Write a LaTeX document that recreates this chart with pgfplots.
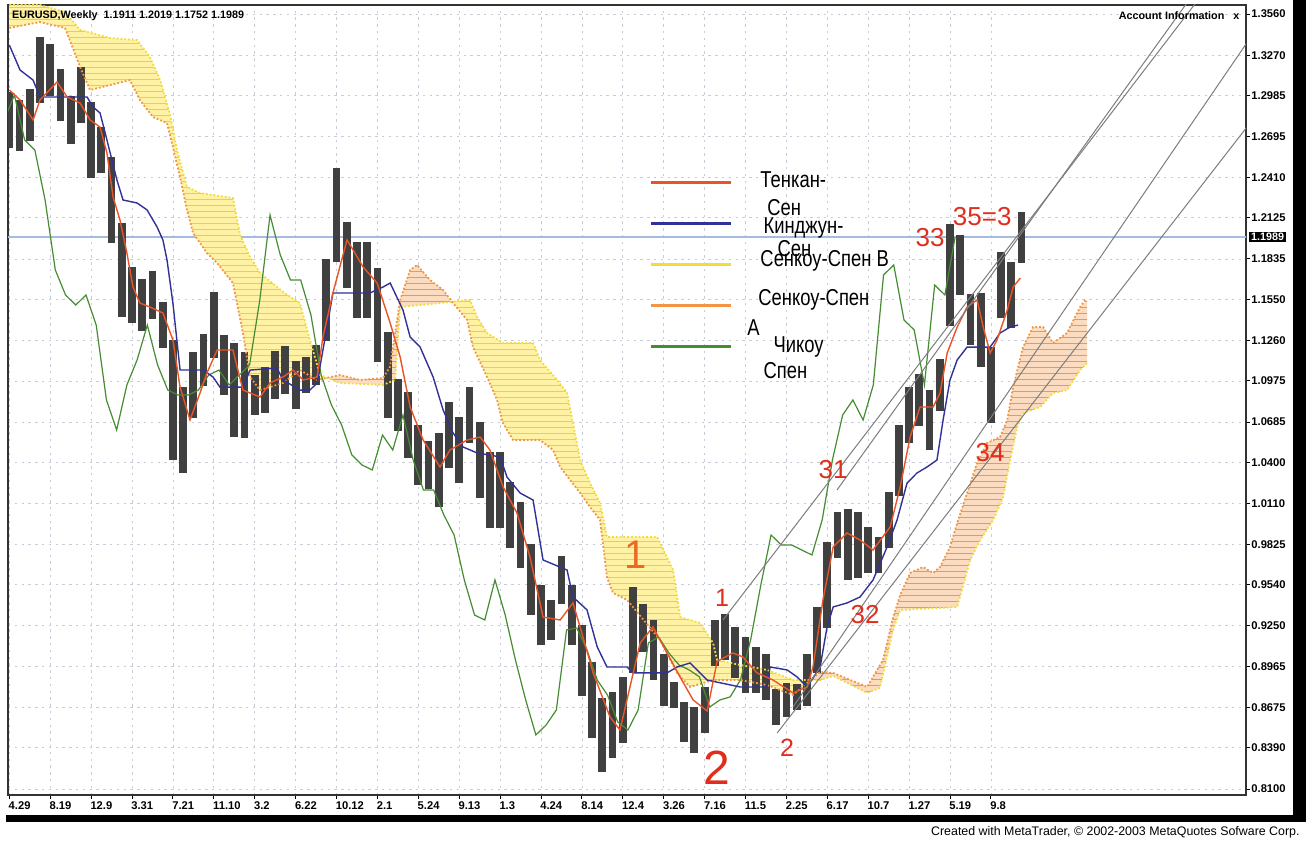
\documentclass[border=0pt]{standalone}
\usepackage{fontspec}
\setmainfont{Liberation Sans}
\usepackage{graphicx}
\usepackage{pgfplots}
\pgfplotsset{compat=1.18}
\usepackage{pgfplotstable}
\usetikzlibrary{patterns}

\definecolor{tenkan}{RGB}{232,84,40}
\definecolor{kijun}{RGB}{50,50,150}
\definecolor{chikou}{RGB}{70,140,50}
\definecolor{spanA}{RGB}{240,150,70}
\definecolor{spanB}{RGB}{240,220,60}
\definecolor{cloudYf}{RGB}{255,242,165}
\definecolor{cloudYl}{RGB}{245,208,45}
\definecolor{cloudOf}{RGB}{252,220,192}
\definecolor{cloudOl}{RGB}{240,150,80}
\definecolor{gridc}{RGB}{198,204,216}
\definecolor{pline}{RGB}{165,188,225}
\definecolor{trend}{RGB}{125,125,125}
\definecolor{lab}{RGB}{225,45,30}
\definecolor{labO}{RGB}{235,105,35}

\pgfplotstableread{
w c e
0 1.2814 0.020
4 1.2778 0.018
8 1.2849 0.018
12 1.3166 0.023
16 1.3166 0.018
20 1.2990 0.018
24 1.2814 0.017
28 1.2990 0.020
32 1.2673 0.027
36 1.2602 0.016
40 1.2250 0.030
44 1.1757 0.033
48 1.1581 0.020
52 1.1510 0.018
56 1.1581 0.017
60 1.1369 0.016
64 1.0841 0.042
68 1.0630 0.030
72 1.0947 0.023
76 1.1123 0.018
80 1.1369 0.023
84 1.1088 0.021
88 1.0911 0.033
92 1.0876 0.030
96 1.0876 0.014
100 1.0911 0.016
104 1.1017 0.017
108 1.1052 0.017
112 1.0947 0.017
116 1.1017 0.013
120 1.1088 0.014
124 1.1546 0.029
128 1.2144 0.033
132 1.1863 0.023
136 1.1686 0.027
140 1.1686 0.027
144 1.1440 0.033
148 1.1017 0.030
152 1.0806 0.018
156 1.0665 0.023
160 1.0454 0.021
164 1.0383 0.017
168 1.0348 0.026
172 1.0594 0.023
176 1.0489 0.023
180 1.0735 0.020
184 1.0418 0.027
188 1.0207 0.027
192 1.0207 0.027
196 1.0031 0.023
200 0.9890 0.023
204 0.9573 0.025
208 0.9326 0.021
212 0.9291 0.014
216 0.9573 0.017
220 0.9326 0.021
224 0.9009 0.025
228 0.8728 0.027
232 0.8481 0.026
236 0.8551 0.023
240 0.8657 0.023
244 0.9221 0.030
248 0.9235 0.017
252 0.9080 0.021
256 0.8868 0.018
260 0.8763 0.009
264 0.8573 0.014
268 0.8516 0.016
272 0.8657 0.016
276 0.9129 0.016
280 0.9171 0.016
284 0.9059 0.018
288 0.8974 0.020
292 0.8939 0.016
296 0.8890 0.016
300 0.8678 0.013
304 0.8728 0.012
308 0.8749 0.009
312 0.8868 0.018
316 0.9150 0.023
320 0.9538 0.030
324 0.9890 0.016
328 0.9820 0.025
332 0.9820 0.023
336 0.9784 0.016
340 0.9749 0.013
344 0.9996 0.020
348 1.0418 0.025
352 1.0735 0.020
356 1.0841 0.018
360 1.0700 0.021
364 1.0947 0.018
368 1.1722 0.036
372 1.1792 0.021
376 1.1405 0.018
380 1.1334 0.026
384 1.0947 0.027
388 1.1651 0.023
392 1.1581 0.023
396 1.1989 0.018
}\price

\pgfplotstableread{
w c
-26 1.2814
-22 1.2778
-18 1.2849
-14 1.3166
-10 1.3166
-6 1.2990
-2 1.2814
2 1.2990
6 1.2673
10 1.2602
14 1.2250
18 1.1757
22 1.1581
26 1.1510
30 1.1581
34 1.1369
38 1.0841
42 1.0630
46 1.0947
50 1.1123
54 1.1369
58 1.1088
62 1.0911
66 1.0876
70 1.0876
74 1.0911
78 1.1017
82 1.1052
86 1.0947
90 1.1017
94 1.1088
98 1.1546
102 1.2144
106 1.1863
110 1.1686
114 1.1686
118 1.1440
122 1.1017
126 1.0806
130 1.0665
134 1.0454
138 1.0383
142 1.0348
146 1.0594
150 1.0489
154 1.0735
158 1.0418
162 1.0207
166 1.0207
170 1.0031
174 0.9890
178 0.9573
182 0.9326
186 0.9291
190 0.9573
194 0.9326
198 0.9009
202 0.8728
206 0.8481
210 0.8551
214 0.8657
218 0.9221
222 0.9235
226 0.9080
230 0.8868
234 0.8763
238 0.8573
242 0.8516
246 0.8657
250 0.9129
254 0.9171
258 0.9059
262 0.8974
266 0.8939
270 0.8890
274 0.8678
278 0.8728
282 0.8749
286 0.8868
290 0.9150
294 0.9538
298 0.9890
302 0.9820
306 0.9820
310 0.9784
314 0.9749
318 0.9996
322 1.0418
326 1.0735
330 1.0841
334 1.0700
338 1.0947
342 1.1722
346 1.1792
350 1.1405
354 1.1334
358 1.0947
362 1.1651
366 1.1581
370 1.1989
}\chikoutab

\pgfplotstableread{
w p
0 1.3025
4.2 1.2955
9.3 1.2814
12 1.2955
18.7 1.3081
22.6 1.2976
27.7 1.2933
31.6 1.2814
35.5 1.2764
38.2 1.2581
40.6 1.2271
43.3 1.2109
46 1.1877
48.4 1.1637
51.1 1.1524
55 1.1496
60.1 1.1454
64 1.1264
66.8 1.0932
70.7 1.0700
74.6 1.0890
77.3 1.1031
81.3 1.1193
87.5 1.1193
91.4 1.0911
98.1 1.0862
102 1.0961
107.1 1.1003
111 1.1052
114.9 1.0982
120.4 1.1003
122.7 1.1285
126.6 1.1595
132.1 1.1968
134.5 1.1898
138.4 1.1778
143.9 1.1665
149 1.1383
152.9 1.1144
156.8 1.0792
161.9 1.0559
168.5 1.0369
172.4 1.0489
179.1 1.0559
184.2 1.0580
188 1.0489
193.2 1.0228
198.6 1.0045
203.7 0.9735
208.8 0.9312
215.5 0.9291
220.5 0.9411
223.3 0.9242
228.4 0.8918
235 0.8608
238.9 0.8516
242.8 0.8819
246.8 0.9129
251.8 0.9242
257.3 0.9059
262.4 0.8890
267.5 0.8728
273 0.8650
276.9 0.9000
283.1 0.9059
287 0.9030
292.5 0.8918
298.8 0.8868
306.6 0.8777
312.1 0.8819
314.4 0.8960
318.3 0.9432
322.3 0.9806
327.7 0.9904
332.8 0.9855
337.9 0.9784
344.6 0.9947
348.5 1.0228
352.4 1.0580
356.3 1.0792
361.4 1.0792
364.1 1.0890
366.9 1.1172
370.8 1.1355
374.7 1.1496
378.6 1.1546
381 1.1355
383.7 1.1172
386.4 1.1264
390.4 1.1475
392.7 1.1637
395.5 1.1700
}\tenkantab

\pgfplotstableread{
w p
0 1.3342
4.2 1.3166
9.3 1.3095
12 1.2976
30.4 1.2976
32.8 1.2905
35.5 1.2863
38.2 1.2673
42.1 1.2391
44.5 1.2250
50 1.2229
53.9 1.2180
57.8 1.2060
60.1 1.1968
61.7 1.1827
64 1.1524
66.8 1.1052
75.8 1.1052
79.7 1.1003
82.4 1.0932
91.4 1.0932
94.2 1.1052
104.7 1.1066
107.1 1.0982
113.7 1.0911
117.6 1.0911
120.4 1.0961
124.3 1.1355
126.6 1.1595
141.1 1.1595
146.2 1.1637
149 1.1665
154 1.1475
156.8 1.1285
160.7 1.1214
165.8 1.1003
169.7 1.0771
173.6 1.0609
177.5 1.0510
183 1.0468
192 1.0440
194.7 1.0298
199.8 1.0186
204.9 1.0136
208.8 0.9714
218.2 0.9643
220.5 0.9453
226 0.9362
230 0.9101
233.8 0.8960
241.7 0.8960
244 0.8918
257.3 0.8918
261.2 0.8960
266.3 0.8988
273 0.8868
285.9 0.8819
296.4 0.8819
297.6 0.8960
304.3 0.8939
308.2 0.8890
312.1 0.8819
317.2 0.8960
319.9 0.9242
322.3 0.9383
327.7 0.9411
332.8 0.9453
337.9 0.9573
343.4 0.9806
347.3 0.9996
351.2 1.0256
355.1 1.0327
359 1.0369
362.9 1.0418
365.3 1.0700
368 1.0982
370.8 1.1123
374.7 1.1214
383.7 1.1214
387.6 1.1313
391.5 1.1355
394.6 1.1369
}\kijuntab

\pgfplotstableread{
w p
0 1.3624
12 1.3624
21.8 1.3574
27.7 1.3448
39.4 1.3391
50 1.3377
55 1.3257
59 1.3095
62.9 1.2849
65.6 1.2602
69.5 1.2342
74.6 1.2299
87.5 1.2264
90.3 1.2003
94.2 1.1848
98.1 1.1736
107.1 1.1602
113.7 1.1524
117.6 1.1264
121.6 1.1017
129.4 1.0961
146.2 1.0947
150.9 1.0982
152.9 1.1496
172.4 1.1531
180.2 1.1546
183 1.1426
186.9 1.1313
193.1 1.1243
204.9 1.1243
207.6 1.1123
214.3 1.0982
218.2 1.0890
220.5 1.0679
223.3 1.0418
227.2 1.0256
231.1 1.0115
233.8 0.9876
253.4 0.9876
259.7 0.9643
262.4 0.9312
270.2 0.9270
275.3 0.9129
276.9 0.9009
285.9 0.8974
296.4 0.8939
306.6 0.8868
317.2 0.8868
322.3 0.8897
335.6 0.8777
340.6 0.8812
345.7 0.9221
348.5 0.9362
370.8 0.9383
375.9 0.9714
379.8 0.9855
384.9 0.9996
388.8 1.0158
391.5 1.0418
394.3 1.0651
396.6 1.0749
403.3 1.0792
408.3 1.0890
413.8 1.0911
418.9 1.1052
421.6 1.1102
}\spanBtab

\pgfplotstableread{
w p
0 1.3462
12 1.3504
21.8 1.3462
27.7 1.3187
31.6 1.3025
39.4 1.3060
47.2 1.3095
51.1 1.2954
56.2 1.2835
61.7 1.2792
64 1.2623
66.8 1.2412
69.5 1.2180
71.9 1.2017
77.3 1.1877
81.3 1.1806
87.5 1.1665
91.4 1.1313
94.2 1.1003
98.1 1.0911
107.1 1.0961
113.7 1.1052
120.4 1.0982
129.4 1.1017
137.2 1.0982
146.2 1.0996
148.9 1.1074
152.9 1.1546
156.8 1.1757
159.5 1.1792
164.6 1.1686
169.7 1.1616
173.6 1.1524
179.1 1.1405
181.4 1.1214
186.9 1.1003
190.8 1.0841
193.1 1.0679
197.1 1.0559
207.6 1.0559
212.7 1.0489
215.5 1.0369
219.4 1.0277
223.3 1.0186
227.2 1.0087
231.1 0.9996
233.8 0.9594
236.2 0.9481
241.7 0.9432
254.6 0.9150
261.2 0.8918
266.3 0.8819
275.3 0.8868
285.9 0.8868
296.4 0.8833
306.6 0.8763
317.2 0.8925
322.3 0.8918
335.6 0.8819
341.8 0.9009
345.7 0.9305
348.5 0.9467
352.4 0.9622
357.5 0.9664
361.4 0.9622
364.1 0.9664
368 0.9805
370.8 0.9974
374.7 1.0186
378.6 1.0397
382.5 1.0538
387.6 1.0580
390.4 1.0700
392.7 1.0933
396.6 1.1214
400.5 1.1355
404.4 1.1355
408.3 1.1243
413.8 1.1313
418.9 1.1496
420.9 1.1546
}\spanAtab

% cloud regions: outlined forward along the upper span and back along the lower span
\pgfplotstableread{
w p
0 1.3624
12 1.3624
21.8 1.3574
27.7 1.3448
39.4 1.3391
50 1.3377
55 1.3257
59 1.3095
62.9 1.2849
65.6 1.2602
69.5 1.2342
74.6 1.2299
87.5 1.2264
90.3 1.2003
94.2 1.1848
98.1 1.1736
107.1 1.1602
113.7 1.1524
117.6 1.1264
121.6 1.1017
125 1.0993
125 1.1000
120.4 1.0982
113.7 1.1052
107.1 1.0961
98.1 1.0911
94.2 1.1003
91.4 1.1313
87.5 1.1665
81.3 1.1806
77.3 1.1877
71.9 1.2017
69.5 1.2180
66.8 1.2412
64 1.2623
61.7 1.2792
56.2 1.2835
51.1 1.2954
47.2 1.3095
39.4 1.3060
31.6 1.3025
27.7 1.3187
21.8 1.3462
12 1.3504
0 1.3462
}\cloudYone

\pgfplotstableread{
w p
125 1.1000
129.4 1.1017
137.2 1.0982
146.2 1.0996
148.9 1.1074
152.9 1.1546
156.8 1.1757
159.5 1.1792
164.6 1.1686
169.7 1.1616
172.4 1.1545
172.4 1.1531
152.9 1.1496
150.9 1.0982
146.2 1.0947
129.4 1.0961
125 1.0993
}\cloudOone

\pgfplotstableread{
w p
172.4 1.1531
180.2 1.1546
183 1.1426
186.9 1.1313
193.1 1.1243
204.9 1.1243
207.6 1.1123
214.3 1.0982
218.2 1.0890
220.5 1.0679
223.3 1.0418
227.2 1.0256
231.1 1.0115
233.8 0.9876
253.4 0.9876
259.7 0.9643
262.4 0.9312
270.2 0.9270
275.3 0.9129
276.9 0.9009
285.9 0.8974
296.4 0.8939
306.6 0.8868
312 0.8868
312 0.8845
306.6 0.8763
296.4 0.8833
285.9 0.8868
275.3 0.8868
266.3 0.8819
261.2 0.8918
254.6 0.9150
241.7 0.9432
236.2 0.9481
233.8 0.9594
231.1 0.9996
227.2 1.0087
223.3 1.0186
219.4 1.0277
215.5 1.0369
212.7 1.0489
207.6 1.0559
197.1 1.0559
193.1 1.0679
190.8 1.0841
186.9 1.1003
181.4 1.1214
179.1 1.1405
173.6 1.1524
172.4 1.1545
}\cloudYtwo

\pgfplotstableread{
w p
312 0.8845
317.2 0.8925
322.3 0.8918
335.6 0.8819
341.8 0.9009
345.7 0.9305
348.5 0.9467
352.4 0.9622
357.5 0.9664
361.4 0.9622
364.1 0.9664
368 0.9805
370.8 0.9974
374.7 1.0186
378.6 1.0397
382.5 1.0538
387.6 1.0580
390.4 1.0700
392.7 1.0933
396.6 1.1214
400.5 1.1355
404.4 1.1355
408.3 1.1243
413.8 1.1313
418.9 1.1496
421.6 1.1546
421.6 1.1102
418.9 1.1052
413.8 1.0911
408.3 1.0890
403.3 1.0792
396.6 1.0749
394.3 1.0651
391.5 1.0418
388.8 1.0158
384.9 0.9996
379.8 0.9855
375.9 0.9714
370.8 0.9383
348.5 0.9362
345.7 0.9221
340.6 0.8812
335.6 0.8777
322.3 0.8897
317.2 0.8868
312 0.8868
}\cloudOtwo

\newcommand\lgt[1]{\scalebox{0.8}[1]{\fontsize{11.5}{12}\selectfont #1}}

\begin{document}
\begin{tikzpicture}
\fill[white] (-4pt,-23.5pt) rectangle (649pt,397.5pt);
\begin{axis}[
  at={(0pt,0pt)}, anchor=south west,
  width=619pt, height=395pt, scale only axis,
  xmin=-0.51, xmax=483.8, ymin=0.8058, ymax=1.3624,
  xtick={0,16,...,384},
  xticklabels={4.29,8.19,12.9,3.31,7.21,11.10,3.2,6.22,10.12,2.1,5.24,9.13,1.3,4.24,8.14,12.4,3.26,7.16,11.5,2.25,6.17,10.7,1.27,5.19,9.8},
  ytick={0.8100,0.8390,0.8675,0.8965,0.9250,0.9540,0.9825,1.0110,1.0400,1.0685,1.0975,1.1260,1.1550,1.1835,1.2125,1.2410,1.2695,1.2985,1.3270,1.3560},
  yticklabels={0.8100,0.8390,0.8675,0.8965,0.9250,0.9540,0.9825,1.0110,1.0400,1.0685,1.0975,1.1260,1.1550,1.1835,1.2125,1.2410,1.2695,1.2985,1.3270,1.3560},
  yticklabel pos=right, ytick pos=right, xtick pos=bottom,
  tick align=outside, major tick length=2pt,
  tick style={black, line width=0.5pt},
  grid=major, grid style={gridc, dash pattern=on 1.2pt off 2.2pt, line width=0.4pt},
  axis line style={black!80, line width=0.8pt},
  xticklabel style={font=\fontsize{5.6}{6}\selectfont\bfseries, anchor=north west, xshift=-1.5pt, inner sep=1pt},
  yticklabel style={font=\fontsize{5.6}{6}\selectfont\bfseries, anchor=west, xshift=-0.5pt, inner sep=1pt},
  legend image code/.code={\path[draw=none, fill=none] (0pt,-2pt) rectangle (40pt,2pt); \draw[#1, line width=1.4pt] (0pt,0pt) -- (40pt,0pt);},
  legend style={at={(rel axis cs:0.5185,0.78)}, anchor=north west, draw=none, fill=none,
    inner sep=0pt, outer sep=0pt, row sep=16.5pt, column sep=0pt,
    nodes={inner sep=0pt, outer sep=0pt}},
]
% current price line
\addplot[pline, line width=0.6pt, forget plot] coordinates {(-1,1.1989) (490,1.1989)};

% cloud fills
\addplot[fill=cloudYf, draw=none, forget plot] table[x=w,y=p] {\cloudYone};
\addplot[fill=cloudOf, draw=none, forget plot] table[x=w,y=p] {\cloudOone};
\addplot[fill=cloudYf, draw=none, forget plot] table[x=w,y=p] {\cloudYtwo};
\addplot[fill=cloudOf, draw=none, forget plot] table[x=w,y=p] {\cloudOtwo};
\addplot[pattern=horizontal lines, pattern color=cloudYl, draw=none, forget plot] table[x=w,y=p] {\cloudYone};
\addplot[pattern=horizontal lines, pattern color=cloudOl, draw=none, forget plot] table[x=w,y=p] {\cloudOone};
\addplot[pattern=horizontal lines, pattern color=cloudYl, draw=none, forget plot] table[x=w,y=p] {\cloudYtwo};
\addplot[pattern=horizontal lines, pattern color=cloudOl, draw=none, forget plot] table[x=w,y=p] {\cloudOtwo};

% price bars
\addplot[draw=none, forget plot,
  error bars/.cd, y dir=both, y explicit, error mark=none,
  error bar style={draw=black!75, line width=3.9pt}]
  table[x=w, y=c, y error=e] {\price};

\addplot[spanB, densely dotted, line width=0.9pt, forget plot] table[x=w,y=p] {\spanBtab};
\addplot[spanA, densely dotted, line width=0.9pt, forget plot] table[x=w,y=p] {\spanAtab};

% ichimoku lines
\addplot[chikou, line width=0.6pt, forget plot] table[x=w,y=c] {\chikoutab};
\addplot[kijun, line width=0.7pt, forget plot] table[x=w,y=p] {\kijuntab};
\addplot[tenkan, line width=0.7pt, forget plot] table[x=w,y=p] {\tenkantab};

% trend lines
\addplot[trend, line width=0.5pt, forget plot] coordinates {(279.2,0.9291) (465.0,1.3659)};
\addplot[trend, line width=0.5pt, forget plot] coordinates {(323.8,1.0207) (461.5,1.3659)};
\addplot[trend, line width=0.5pt, forget plot] coordinates {(306.6,0.8678) (485.4,1.3391)};
\addplot[trend, line width=0.5pt, forget plot] coordinates {(300.4,0.8495) (485.4,1.2793)};

% legend
\addlegendimage{tenkan}\addlegendentry{}
\addlegendimage{kijun}\addlegendentry{}
\addlegendimage{spanB}\addlegendentry{}
\addlegendimage{spanA}\addlegendentry{}
\addlegendimage{chikou}\addlegendentry{}

% legend texts
\node[anchor=west, inner sep=0pt] at (axis cs:293.7,1.2391) {\lgt{Тенкан-}};
\node[anchor=west, inner sep=0pt] at (axis cs:296.4,1.2194) {\lgt{Сен}};
\node[anchor=west, inner sep=0pt] at (axis cs:294.9,1.2053) {\lgt{Кинджун-}};
\node[anchor=west, inner sep=0pt] at (axis cs:300.4,1.1905) {\lgt{Сен}};
\node[anchor=west, inner sep=0pt] at (axis cs:293.7,1.1820) {\lgt{Сенкоу-Спен В}};
\node[anchor=west, inner sep=0pt] at (axis cs:292.9,1.1545) {\lgt{Сенкоу-Спен}};
\node[anchor=west, inner sep=0pt] at (axis cs:288.6,1.1348) {\lgt{А}};
\node[anchor=west, inner sep=0pt] at (axis cs:298.8,1.1214) {\lgt{Чикоу}};
\node[anchor=west, inner sep=0pt] at (axis cs:294.9,1.1045) {\lgt{Спен}};

% wave labels
\node[text=labO, font=\fontsize{20}{20}\selectfont] at (axis cs:245.2,0.9749) {1};
\node[text=lab, font=\fontsize{24}{24}\selectfont] at (axis cs:276.9,0.8248) {2};
\node[text=lab, font=\fontsize{12.5}{13}\selectfont] at (axis cs:278.8,0.9446) {1};
\node[text=lab, font=\fontsize{12.5}{13}\selectfont] at (axis cs:304.3,0.8389) {2};
\node[text=lab, font=\fontsize{13}{13}\selectfont] at (axis cs:322.3,1.0348) {31};
\node[text=lab, font=\fontsize{13}{13}\selectfont] at (axis cs:334.8,0.9326) {32};
\node[text=lab, font=\fontsize{13}{13}\selectfont] at (axis cs:360.2,1.1982) {33};
\node[text=lab, font=\fontsize{13}{13}\selectfont] at (axis cs:380.6,1.2130) {35=3};
\node[text=lab, font=\fontsize{13}{13}\selectfont] at (axis cs:383.7,1.0468) {34};

% header texts
\node[anchor=west, inner sep=0pt, font=\fontsize{5.4}{6}\selectfont\bfseries] at (rel axis cs:0.003,0.987) {EURUSD,Weekly\ \ 1.1911 1.2019 1.1752 1.1989};
\node[anchor=east, inner sep=0pt, font=\fontsize{5.4}{6}\selectfont\bfseries] at (rel axis cs:0.995,0.986) {Account Information\ \ \ x};
\end{axis}
% current price box on the scale
\node[anchor=west, fill=black, text=white, inner sep=0.8pt, font=\fontsize{5.4}{6}\selectfont\bfseries] at (620.5pt,279pt) {1.1989};
% black frame bars
\fill[black] (642.5pt,397.5pt) rectangle (649pt,-13.5pt);
\fill[black] (-1pt,-10pt) rectangle (649pt,-13.5pt);
% footer
\node[anchor=east, inner sep=0pt, font=\fontsize{6.2}{7}\selectfont] at (646pt,-18.5pt) {Created with MetaTrader, © 2002-2003 MetaQuotes Sofware Corp.};
\pgfresetboundingbox
\useasboundingbox (-4pt,-23.5pt) rectangle (649pt,397.5pt);
\end{tikzpicture}
\end{document}
